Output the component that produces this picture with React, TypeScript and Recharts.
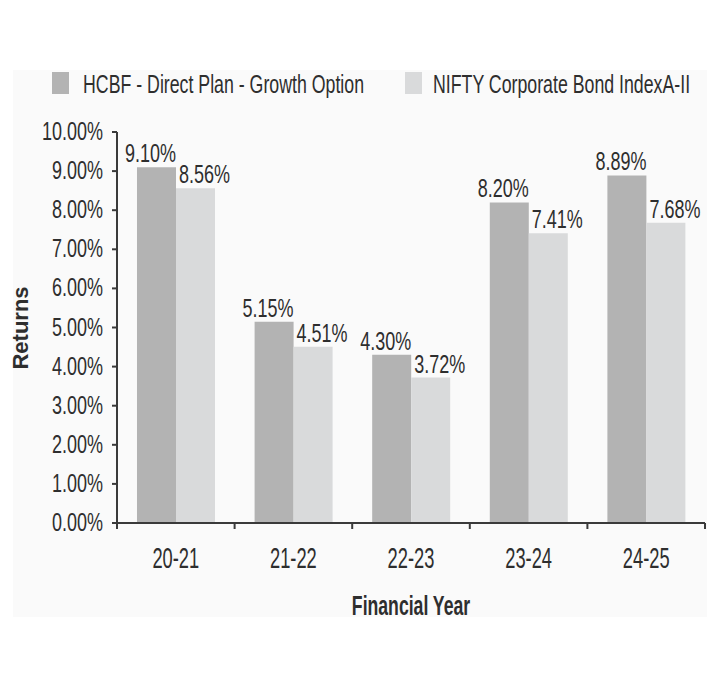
import React from 'react';
import { BarChart, Bar, XAxis, YAxis, Legend, LabelList, Label } from 'recharts';

const years = ['20-21', '21-22', '22-23', '23-24', '24-25'];
const fundReturns = [9.1, 5.15, 4.3, 8.2, 8.89];
const indexReturns = [8.56, 4.51, 3.72, 7.41, 7.68];
const yTicks = [0, 1, 2, 3, 4, 5, 6, 7, 8, 9, 10];

const FUND_NAME = 'HCBF - Direct Plan - Growth Option';
const INDEX_NAME = 'NIFTY Corporate Bond IndexA-II';

const DARK = '#b3b3b3';
const LIGHT = '#d9dadb';
const TEXT = '#2e2e2e';
const AXIS = '#3a3a3a';
const FONT = "'Liberation Sans', Arial, sans-serif";

const W = 723;
const H = 684;
const margin = { top: 132, right: 18, bottom: 61, left: 37 };
const Y_AXIS_W = 80;
const X_AXIS_H = 100;
const plotWidth = W - margin.left - Y_AXIS_W - margin.right;
const band = plotWidth / years.length;

const data = years.map((year, i) => ({
  year,
  fund: fundReturns[i],
  index: indexReturns[i],
}));

// condensed text: the original uses a narrow face, so squeeze a regular one horizontally
const NText = ({ x, y, size, sx, anchor = 'start', bold = false, children }: any) => (
  <text
    transform={`translate(${x},${y}) scale(${sx},1)`}
    x={0}
    y={0}
    textAnchor={anchor}
    fill={TEXT}
    fontSize={size}
    fontWeight={bold ? 'bold' : 'normal'}
    fontFamily={FONT}
  >
    {children}
  </text>
);

const XTick = (props: any) => {
  const { x, y, payload, index } = props;
  const left = x - band / 2;
  return (
    <g>
      <line x1={left} y1={y} x2={left} y2={y + 6} stroke={AXIS} strokeWidth={2} />
      {index === years.length - 1 && (
        <line x1={x + band / 2} y1={y} x2={x + band / 2} y2={y + 6} stroke={AXIS} strokeWidth={2} />
      )}
      <NText x={x} y={y + 45} size={30} sx={0.61} anchor="middle">
        {payload.value}
      </NText>
    </g>
  );
};

const YTick = (props: any) => {
  const { x, y, payload } = props;
  return (
    <NText x={x} y={y + 8} size={25} sx={0.72} anchor="end">
      {`${payload.value.toFixed(2)}%`}
    </NText>
  );
};

const valueLabel = (dx: number) => (props: any) => {
  const { x, y, width, value } = props;
  return (
    <NText x={x + width / 2 + dx} y={y - 5} size={25} sx={0.72} anchor="middle">
      {`${value.toFixed(2)}%`}
    </NText>
  );
};

const renderLegend = () => (
  <svg width={W} height={40} style={{ display: 'block' }}>
    <rect x={52} y={7} width={17} height={22} fill={DARK} />
    <NText x={83} y={28} size={25} sx={0.71}>
      {FUND_NAME}
    </NText>
    <rect x={405} y={7} width={17} height={22} fill={LIGHT} />
    <NText x={433} y={28} size={25} sx={0.71}>
      {INDEX_NAME}
    </NText>
  </svg>
);

export default function App() {
  return (
    <div style={{ position: 'relative', width: W, height: H, margin: -8, background: '#fff', overflow: 'hidden' }}>
      <div style={{ position: 'absolute', left: 13, top: 70, width: 694, height: 547, background: '#fafafa' }} />
      <div style={{ position: 'absolute', left: 0, top: 0 }}>
        <BarChart
          width={W}
          height={H}
          data={data}
          margin={margin}
          barCategoryGap="17%"
          barGap={0}
        >
          <Legend
            layout="horizontal"
            verticalAlign="middle"
            align="center"
            content={renderLegend}
            wrapperStyle={{ top: 65, left: 0, width: W, height: 40 }}
          />
          <XAxis
            dataKey="year"
            height={X_AXIS_H}
            tickSize={0}
            tickMargin={0}
            tickLine={false}
            axisLine={{ stroke: AXIS, strokeWidth: 2 }}
            tick={<XTick />}
            interval={0}
          >
            <Label
              content={(p: any) => {
                const vb = p.viewBox;
                return (
                  <NText x={vb.x + vb.width / 2} y={615} size={28} sx={0.63} anchor="middle" bold>
                    Financial Year
                  </NText>
                );
              }}
            />
          </XAxis>
          <YAxis
            width={Y_AXIS_W}
            domain={[0, 10]}
            ticks={yTicks}
            interval={0}
            tickSize={5}
            tickMargin={9}
            tick={<YTick />}
            tickLine={{ stroke: AXIS, strokeWidth: 2 }}
            axisLine={{ stroke: AXIS, strokeWidth: 2 }}
          >
            <Label
              content={() => (
                <text
                  x={28}
                  y={328}
                  transform="rotate(-90, 28, 328)"
                  textAnchor="middle"
                  fill={TEXT}
                  fontSize={22}
                  fontWeight="bold"
                  fontFamily={FONT}
                >
                  Returns
                </text>
              )}
            />
          </YAxis>
          <Bar dataKey="fund" name={FUND_NAME} fill={DARK} isAnimationActive={false}>
            <LabelList dataKey="fund" content={valueLabel(-6)} />
          </Bar>
          <Bar dataKey="index" name={INDEX_NAME} fill={LIGHT} isAnimationActive={false}>
            <LabelList dataKey="index" content={valueLabel(9)} />
          </Bar>
        </BarChart>
      </div>
      <div style={{ position: 'absolute', left: 0, top: 0, width: W, height: 3, background: '#000' }} />
      <div style={{ position: 'absolute', left: 720, top: 0, width: 3, height: H, background: '#000' }} />
    </div>
  );
}
